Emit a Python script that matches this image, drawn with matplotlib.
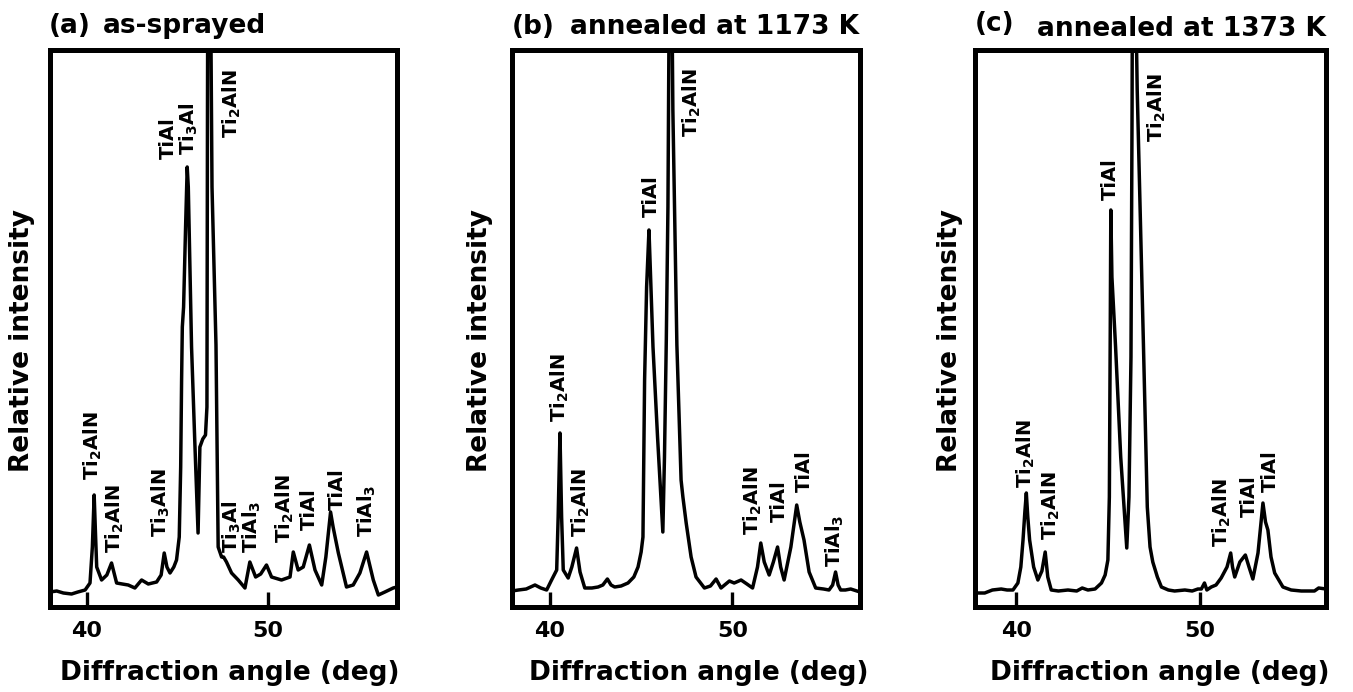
import matplotlib
matplotlib.use("Agg")
from matplotlib import pyplot as plt

plt.rcParams["font.family"] = ["DejaVu Sans"]
plt.rcParams["font.weight"] = "bold"
plt.rcParams["mathtext.default"] = "bf"

# (a) as-sprayed
angle_a = [37.96, 38.33, 38.7, 39.15, 39.5, 39.9, 40.17, 40.30, 40.40, 40.48, 40.54, 40.81,
           41.1, 41.36, 41.64, 41.95, 42.28, 42.65, 43.02, 43.39, 43.85, 44.1, 44.27, 44.42,
           44.59, 44.80, 44.95, 45.10, 45.18, 45.23, 45.27, 45.34, 45.45, 45.54, 45.60, 45.78,
           45.95, 46.14, 46.24, 46.40, 46.55, 46.63, 46.66, 46.70, 46.80, 46.91, 47.13, 47.25,
           47.44, 47.55, 47.71, 47.99, 48.36, 48.73, 49.0, 49.32, 49.6, 49.92, 50.20, 50.75,
           51.22, 51.40, 51.67, 51.95, 52.29, 52.60, 52.97, 53.2, 53.46, 53.6, 53.89, 54.34,
           54.71, 55.08, 55.45, 55.82, 56.10, 56.46, 56.92, 57.13]
inten_a = [15, 16, 14, 13, 15, 17, 24, 60, 112, 70, 40, 27,
           32, 44, 24, 23, 22, 19, 27, 23, 25, 32, 54, 40,
           34, 40, 47, 70, 140, 227, 280, 300, 380, 440, 420, 260,
           170, 74, 160, 168, 172, 200, 500, 800, 700, 420, 262, 60,
           50, 50, 45, 34, 27, 19, 45, 30, 33, 42, 30, 27,
           30, 55, 37, 40, 62, 37, 22, 50, 95, 80, 54, 20,
           22, 34, 55, 27, 12, 15, 19, 20]

# (b) annealed at 1173 K
angle_b = [37.92, 38.27, 38.7, 39.18, 39.5, 39.82, 40.09, 40.37, 40.45, 40.55, 40.64, 40.73,
           41.0, 41.2, 41.46, 41.65, 41.91, 42.3, 42.64, 42.9, 43.15, 43.35, 43.55, 43.9,
           44.28, 44.6, 44.83, 45.0, 45.10, 45.19, 45.30, 45.43, 45.50, 45.65, 45.90, 46.19,
           46.28, 46.38, 46.47, 46.60, 46.74, 46.96, 47.19, 47.29, 47.47, 47.74, 48.01, 48.47,
           48.8, 49.11, 49.38, 49.84, 50.1, 50.48, 50.8, 51.11, 51.38, 51.56, 51.75, 52.02,
           52.25, 52.48, 52.65, 52.84, 53.21, 53.53, 53.7, 53.93, 54.21, 54.57, 55.0, 55.30,
           55.5, 55.66, 55.8, 55.94, 56.2, 56.49, 57.0]
inten_b = [16, 17, 18, 22, 19, 17, 27, 37, 90, 174, 90, 37,
           29, 40, 59, 35, 19, 19, 20, 22, 28, 22, 20, 21,
           24, 30, 40, 55, 70, 227, 320, 377, 340, 260, 170, 75,
           150, 267, 400, 800, 497, 262, 127, 110, 84, 50, 30, 19,
           21, 28, 19, 26, 24, 27, 23, 19, 40, 64, 45, 32,
           45, 60, 40, 27, 60, 102, 85, 67, 35, 19, 18, 17,
           22, 35, 22, 17, 17, 18, 15]

# (c) annealed at 1373 K
angle_c = [37.75, 38.28, 38.7, 39.18, 39.5, 39.82, 40.09, 40.25, 40.37, 40.47, 40.55, 40.63,
           40.73, 40.95, 41.18, 41.4, 41.58, 41.72, 41.91, 42.3, 42.82, 43.3, 43.6, 43.91,
           44.3, 44.65, 44.85, 45.0, 45.08, 45.13, 45.16, 45.22, 45.42, 45.70, 46.03, 46.15,
           46.26, 46.32, 46.36, 46.60, 46.94, 47.15, 47.30, 47.45, 47.70, 47.92, 48.3, 48.64,
           49.2, 49.6, 49.91, 50.1, 50.27, 50.4, 50.64, 50.9, 51.18, 51.5, 51.70, 51.80,
           51.92, 52.2, 52.50, 52.70, 52.91, 53.19, 53.46, 53.6, 53.73, 53.9, 54.10, 54.55,
           55.0, 55.55, 56.27, 56.5, 56.9]
inten_c = [14, 14, 17, 18, 17, 17, 24, 40, 67, 95, 114, 90,
           67, 40, 27, 36, 55, 30, 17, 16, 17, 16, 19, 17,
           18, 24, 32, 47, 110, 280, 397, 330, 260, 150, 59, 110,
           250, 500, 800, 517, 262, 100, 60, 45, 30, 20, 17, 16,
           17, 16, 18, 18, 24, 17, 20, 22, 29, 40, 54, 40,
           30, 45, 52, 40, 28, 54, 104, 85, 77, 50, 34, 20,
           17, 16, 16, 19, 18]

# peak labels: text, angle, intensity at text start
labels_a = ["Ti$_2$AlN", "Ti$_2$AlN", "Ti$_3$AlN", "TiAl", "Ti$_3$Al", "Ti$_2$AlN",
            "Ti$_3$Al", "TiAl$_3$", "Ti$_2$AlN", "TiAl", "TiAl", "TiAl$_3$"]
lab_x_a = [40.33, 41.57, 44.06, 44.48, 45.64, 48.01, 47.98, 49.09, 50.92, 52.27, 53.84, 55.44]
lab_y_a = [127, 54, 70, 448, 452, 469, 54, 54, 64, 77, 97, 70]

labels_b = ["Ti$_2$AlN", "Ti$_2$AlN", "TiAl", "Ti$_2$AlN", "Ti$_2$AlN", "TiAl", "TiAl",
            "TiAl$_3$"]
lab_x_b = [40.57, 41.67, 45.55, 47.79, 51.12, 52.57, 53.93, 55.63]
lab_y_b = [185, 70, 390, 470, 72, 85, 115, 40]

labels_c = ["Ti$_2$AlN", "Ti$_2$AlN", "TiAl", "Ti$_2$AlN", "Ti$_2$AlN", "TiAl", "TiAl"]
lab_x_c = [40.53, 41.89, 45.14, 47.67, 51.24, 52.72, 53.89]
lab_y_c = [119, 67, 407, 465, 60, 90, 115]

panel_tags = ["(a)", "(b)", "(c)"]
panel_titles = ["as-sprayed", "annealed at 1173 K", "annealed at 1373 K"]

W, H = 1353, 692
fig = plt.figure(figsize=(W / 100, H / 100), dpi=100)

lefts = [50, 512, 975]
widths = [347, 348, 351]
xlims = [(37.96, 57.13), (37.92, 57.0), (37.75, 56.9)]
data = [(angle_a, inten_a, labels_a, lab_x_a, lab_y_a),
        (angle_b, inten_b, labels_b, lab_x_b, lab_y_b),
        (angle_c, inten_c, labels_c, lab_x_c, lab_y_c)]

# figure-pixel positions of the surrounding texts
tag_x = [49, 512, 975]
tag_base = [33, 34, 31]
title_x = [103, 570, 1037]
title_base = [33, 34, 36]
ylab_x = [22, 480, 950]
xlab_x = [230, 699, 1160]

for i in range(3):
    x, y, labs, lx, ly = data[i]
    ax = fig.add_axes([lefts[i] / W, (H - 607) / H, widths[i] / W, 557 / H])
    ax.plot(x, y, color="black", lw=2.5, solid_joinstyle="round")
    ax.set_xlim(*xlims[i])
    ax.set_ylim(0, 557)
    ax.set_xticks([40, 50])
    ax.set_yticks([])
    ax.tick_params(axis="x", direction="in", length=11, width=2.4, labelsize=16, pad=10)
    for t in ax.get_xticklabels():
        t.set_fontweight("bold")
    for s in ax.spines.values():
        s.set_linewidth(3.6)
    for s, px, py in zip(labs, lx, ly):
        ax.text(px, py, s, rotation=90, ha="center", va="bottom",
                fontsize=14, fontweight="bold")

    fig.text(tag_x[i] / W, 1 - tag_base[i] / H, panel_tags[i], fontsize=19,
             fontweight="bold", ha="left", va="baseline")
    fig.text(title_x[i] / W, 1 - title_base[i] / H, panel_titles[i], fontsize=19,
             fontweight="bold", ha="left", va="baseline")
    fig.text(ylab_x[i] / W, 1 - 340 / H, "Relative intensity", rotation=90,
             fontsize=19, fontweight="bold", ha="center", va="center")
    fig.text(xlab_x[i] / W, 1 - 673 / H, "Diffraction angle (deg)",
             fontsize=19, fontweight="bold", ha="center", va="center")

fig.savefig("out.png", dpi=100)
